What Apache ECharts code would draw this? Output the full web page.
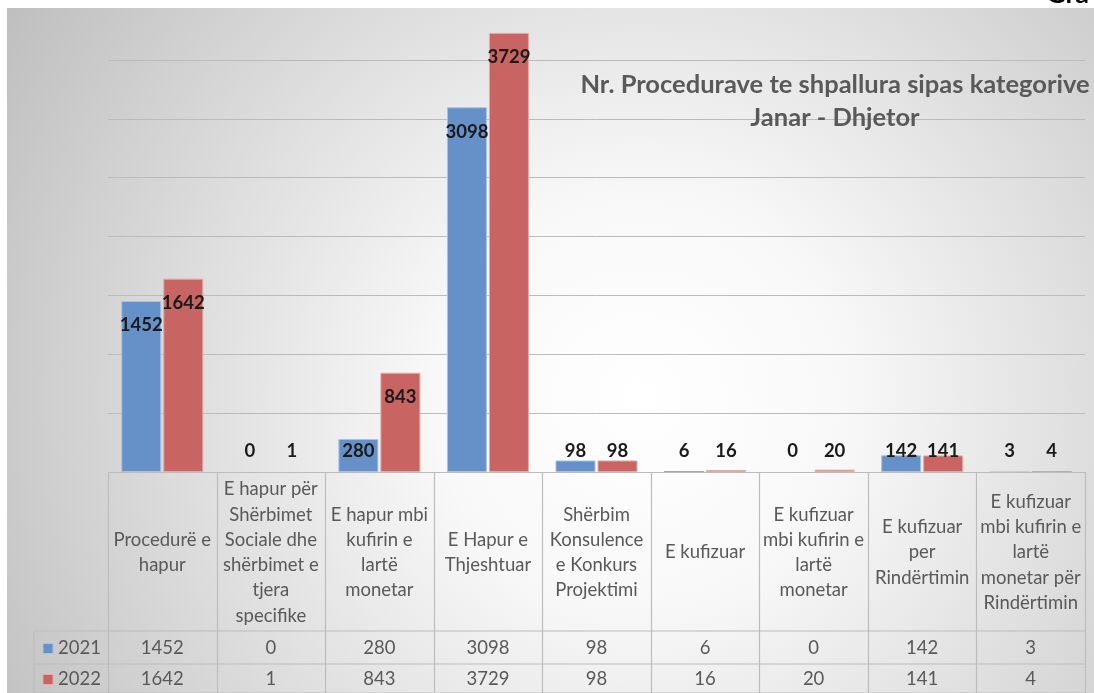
<!DOCTYPE html>
<html>
<head>
<meta charset="utf-8">
<script src="https://cdn.jsdelivr.net/npm/echarts@6/dist/echarts.min.js"></script>
<style>
html,body{margin:0;padding:0;background:#fff;}
#chart{width:1094px;height:693px;}
</style>
</head>
<body>
<div id="chart"></div>
<script>
// ---- data ----
var categories = [
  "Procedurë e\nhapur",
  "E hapur për\nShërbimet\nSociale dhe\nshërbimet e\ntjera\nspecifike",
  "E hapur mbi\nkufirin e\nlartë\nmonetar",
  "E Hapur e\nThjeshtuar",
  "Shërbim\nKonsulence\ne Konkurs\nProjektimi",
  "E kufizuar",
  "E kufizuar\nmbi kufirin e\nlartë\nmonetar",
  "E kufizuar\nper\nRindërtimin",
  "E kufizuar\nmbi kufirin e\nlartë\nmonetar për\nRindërtimin"
];
var seriesNames = ["2021", "2022"];
var values2021 = [1452, 0, 280, 3098, 98, 6, 0, 142, 3];
var values2022 = [1642, 1, 843, 3729, 98, 16, 20, 141, 4];
var titleText = "Nr. Procedurave te shpallura sipas kategorive\nJanar - Dhjetor";

// ---- styles ----
var FONT = "Lato, 'Noto Sans', sans-serif";
var colors = ["#6591C8", "#C86563"];
var borders = ["#A9C2E4", "#E2AAA9"];
var gridColor = "#BBBBBB";
var tableLine = "#BCBCBC";
var textGray = "#595959";

function makeData(vals) {
  return vals.map(function (v) {
    var item = { value: v };
    if (v >= 400) {
      item.label = { position: "insideTop", distance: 15 };
    } else {
      item.label = { position: "insideBottom", distance: 11 };
    }
    if (v < 10) {
      item.itemStyle = { borderWidth: 0 };
    }
    return item;
  });
}

var chart = echarts.init(document.getElementById("chart"), null, { renderer: "canvas" });

var option = {
  animation: false,
  backgroundColor: "#ffffff",
  grid: { left: 108, right: 9, top: 1, bottom: 221, containLabel: false },
  xAxis: {
    type: "category",
    data: categories,
    axisLine: { show: true, lineStyle: { color: tableLine, width: 1 } },
    axisTick: { show: false },
    axisLabel: { show: false },
    splitLine: { show: false }
  },
  yAxis: {
    type: "value",
    min: 0,
    max: 4000,
    interval: 500,
    axisLine: { show: false },
    axisTick: { show: false },
    axisLabel: { show: false },
    splitLine: { show: true, lineStyle: { color: gridColor, width: 1 } }
  },
  series: [0, 1].map(function (k) {
    return {
      name: seriesNames[k],
      type: "bar",
      data: makeData(k === 0 ? values2021 : values2022),
      barWidth: 40,
      barGap: "5%",
      itemStyle: { color: colors[k], borderColor: borders[k], borderWidth: 1 },
      label: {
        show: true,
        color: "#1A1A1A",
        fontFamily: FONT,
        fontWeight: "bold",
        fontSize: 18.5
      },
      z: 3
    };
  })
};
chart.setOption(option);

// ---- table & decorations ----
var baseY = chart.convertToPixel({ yAxisIndex: 0 }, 0);
var x0 = chart.convertToPixel({ xAxisIndex: 0 }, 0);
var x1 = chart.convertToPixel({ xAxisIndex: 0 }, 1);
var cw = x1 - x0;
var leftX = x0 - cw / 2;
var rightX = leftX + cw * categories.length;
var headerBottom = 631;
var row1Bottom = 664;
var row2Bottom = 697;
var legendLeft = 34;

var g = [];
// background
g.push({
  type: "rect", z: -100, silent: true,
  shape: { x: 7, y: 8, width: 1087, height: 685 },
  style: {
    fill: {
      type: "radial", x: 640, y: 400, r: 740, global: true,
      colorStops: [
        { offset: 0, color: "#FFFFFF" },
        { offset: 0.28, color: "#F8F8F8" },
        { offset: 1, color: "#BFBFBF" }
      ]
    }
  }
});
// cover top strip
g.push({ type: "rect", z: 100, silent: true, shape: { x: 0, y: 0, width: 1094, height: 8 }, style: { fill: "#fff" } });
// partial outside text
g.push({
  type: "text", z: 101, silent: true, x: 1046, y: 8,
  style: { text: "Gra", font: "bold 27px " + FONT, fill: "#000", textVerticalAlign: "bottom" }
});
// title
g.push({
  type: "text", z: 50, silent: true, x: 835, y: 101,
  style: {
    text: titleText, font: "bold 25.5px " + FONT, fill: textGray,
    textAlign: "center", textVerticalAlign: "middle", lineHeight: 33
  }
});

function line(xa, ya, xb, yb) {
  g.push({ type: "line", z: 20, silent: true, shape: { x1: xa, y1: ya, x2: xb, y2: yb },
    style: { stroke: tableLine, lineWidth: 1.2 } });
}
// vertical lines
for (var i = 0; i <= categories.length; i++) {
  var vx = Math.round(leftX + i * cw) + 0.5;
  line(vx, baseY, vx, row2Bottom);
}
line(legendLeft, headerBottom, legendLeft, row2Bottom);
line(legendLeft, headerBottom, rightX, headerBottom);
line(legendLeft, row1Bottom, rightX, row1Bottom);
line(legendLeft, row2Bottom - 4, rightX, row2Bottom - 4);

// header texts + values
var rows = [values2021, values2022];
var rowCenters = [(headerBottom + row1Bottom) / 2 + 1, (row1Bottom + row2Bottom - 4) / 2 + 1];
for (var c = 0; c < categories.length; c++) {
  var cx = chart.convertToPixel({ xAxisIndex: 0 }, c);
  g.push({
    type: "text", z: 30, silent: true, x: cx, y: (baseY + headerBottom) / 2 + 1,
    style: { text: categories[c], font: "18.5px " + FONT, fill: textGray,
      textAlign: "center", textVerticalAlign: "middle", lineHeight: 25.3 }
  });
  for (var r = 0; r < 2; r++) {
    g.push({
      type: "text", z: 30, silent: true, x: cx, y: rowCenters[r],
      style: { text: String(rows[r][c]), font: "18.5px " + FONT, fill: textGray,
        textAlign: "center", textVerticalAlign: "middle" }
    });
  }
}
// legend keys
for (var r2 = 0; r2 < 2; r2++) {
  g.push({ type: "rect", z: 30, silent: true,
    shape: { x: 43, y: rowCenters[r2] - 5, width: 10, height: 10 },
    style: { fill: colors[r2], stroke: borders[r2], lineWidth: 1 } });
  g.push({ type: "text", z: 30, silent: true, x: 58, y: rowCenters[r2],
    style: { text: seriesNames[r2], font: "18.5px " + FONT, fill: textGray,
      textAlign: "left", textVerticalAlign: "middle" } });
}

chart.setOption({ graphic: { elements: g } });
</script>
</body>
</html>
